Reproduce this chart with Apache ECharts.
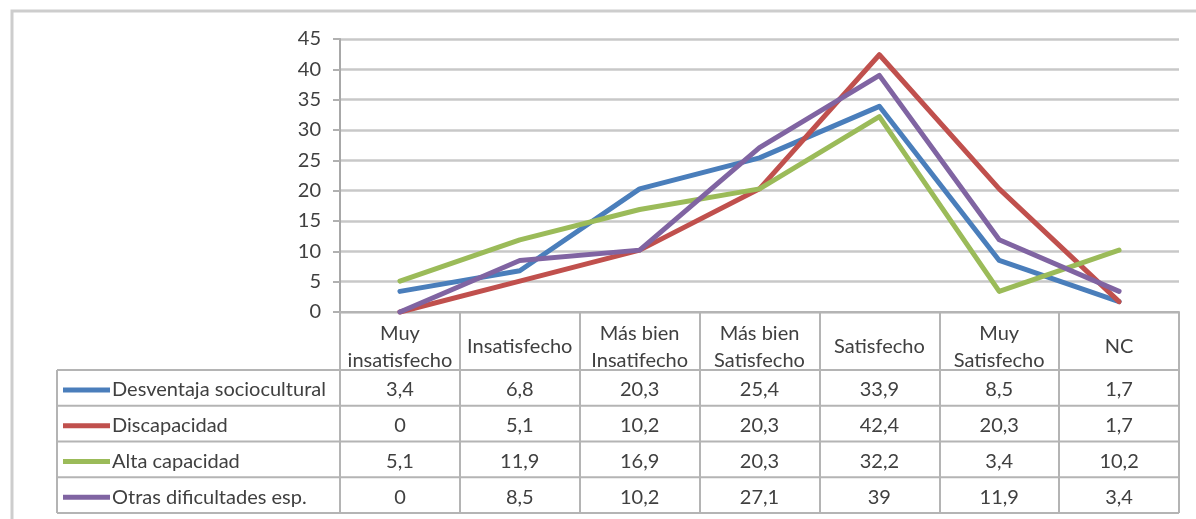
<!DOCTYPE html>
<html>
<head>
<meta charset="utf-8">
<script src="https://cdn.jsdelivr.net/npm/echarts@6/dist/echarts.min.js"></script>
<style>
  html, body { margin: 0; padding: 0; background: #ffffff; }
  #chart { width: 1196px; height: 519px; }
</style>
</head>
<body>
<div id="chart"></div>
<script>
// Satisfaction level categories (header row of the data table)
const categories = ['Muy\ninsatisfecho', 'Insatisfecho', 'Más bien\nInsatifecho', 'Más bien\nSatisfecho', 'Satisfecho', 'Muy\nSatisfecho', 'NC'];

// Percentages per group
const desventaja = [3.4, 6.8, 20.3, 25.4, 33.9, 8.5, 1.7];
const discapacidad = [0, 5.1, 10.2, 20.3, 42.4, 20.3, 1.7];
const altaCapacidad = [5.1, 11.9, 16.9, 20.3, 32.2, 3.4, 10.2];
const otras = [0, 8.5, 10.2, 27.1, 39, 11.9, 3.4];

const seriesNames = ['Desventaja sociocultural', 'Discapacidad', 'Alta capacidad', 'Otras dificultades esp.'];
const seriesValues = [desventaja, discapacidad, altaCapacidad, otras];
const seriesColors = ['#4a7ebb', '#c0504d', '#9bbb59', '#8064a2'];

// Value axis ticks
const yMin = 0, yMax = 45, yStep = 5;

const FONT = 'Lato, "Open Sans", sans-serif';
const FONT_SIZE = 20;
const TEXT = '#404040';
const TABLE_LINE = '#b4b4b4';

// Layout of the table under the plot
const gridLeft = 340, gridRight = 17, gridTop = 39, gridBottom = 207;
const headerH = 58;      // header row (category names)
const rowH = 35.75;      // one row per series
const tableLeft = 57;

const chart = echarts.init(document.getElementById('chart'), null, { renderer: 'canvas' });

const plotBottom = 519 - gridBottom;
const tableBottom = plotBottom + headerH + rowH * seriesNames.length;

chart.setOption({
  animation: false,
  backgroundColor: '#ffffff',
  textStyle: { fontFamily: FONT },
  grid: { left: gridLeft, right: gridRight, top: gridTop, bottom: gridBottom, containLabel: false },
  xAxis: {
    type: 'category',
    data: categories,
    boundaryGap: true,
    axisLine: { show: true, lineStyle: { color: TABLE_LINE, width: 2 } },
    axisTick: { show: true, length: tableBottom - plotBottom, lineStyle: { color: TABLE_LINE, width: 2 } },
    axisLabel: {
      interval: 0, margin: 35, verticalAlign: 'middle', align: 'center',
      fontFamily: FONT, fontSize: FONT_SIZE, lineHeight: 27, color: TEXT
    },
    splitLine: { show: false }
  },
  yAxis: {
    type: 'value',
    min: yMin, max: yMax, interval: yStep,
    axisLine: { show: true, lineStyle: { color: '#a8a8a8', width: 2 } },
    axisTick: { show: true, length: 7, lineStyle: { color: '#b0b0b0', width: 2 } },
    axisLabel: { margin: 19, fontFamily: FONT, fontSize: FONT_SIZE, color: TEXT },
    splitLine: { show: true, lineStyle: { color: '#c8c8c8', width: 2.5 } }
  },
  series: seriesNames.map((name, i) => ({
    name: name,
    type: 'line',
    data: seriesValues[i],
    showSymbol: false,
    symbol: 'none',
    clip: false,
    lineStyle: { color: seriesColors[i], width: 5, join: 'round', cap: 'round' },
    itemStyle: { color: seriesColors[i] },
    z: 3 + i
  }))
});

// Data table: row borders, legend keys, names and values
const fmt = v => String(v).replace('.', ',');
const gridRightX = 1196 - gridRight;
const graphics = [];

// outer frame of the chart area
graphics.push({
  type: 'rect', silent: true,
  shape: { x: 12, y: 11, width: 1300, height: 700 },
  style: { fill: null, stroke: '#cdcdcd', lineWidth: 3 }
});

const headerBottom = plotBottom + headerH;
for (let r = 0; r <= seriesNames.length; r++) {
  const y = headerBottom + r * rowH;
  graphics.push({
    type: 'line', silent: true,
    shape: { x1: tableLeft, y1: y, x2: gridRightX, y2: y },
    style: { stroke: TABLE_LINE, lineWidth: 2 }
  });
}
graphics.push({
  type: 'line', silent: true,
  shape: { x1: tableLeft, y1: headerBottom, x2: tableLeft, y2: tableBottom },
  style: { stroke: TABLE_LINE, lineWidth: 2 }
});
graphics.push({
  type: 'line', silent: true,
  shape: { x1: gridLeft, y1: plotBottom, x2: gridLeft, y2: tableBottom },
  style: { stroke: TABLE_LINE, lineWidth: 2 }
});

seriesNames.forEach((name, r) => {
  const cy = headerBottom + r * rowH + rowH / 2 + 2;
  graphics.push({
    type: 'rect', silent: true,
    shape: { x: 63, y: cy - 2.5, width: 47, height: 5 },
    style: { fill: seriesColors[r] }
  });
  graphics.push({
    type: 'text', silent: true,
    x: 112, y: cy,
    style: { text: name, fontFamily: FONT, fontSize: FONT_SIZE, fill: TEXT, align: 'left', verticalAlign: 'middle' }
  });
  seriesValues[r].forEach((v, c) => {
    const cx = chart.convertToPixel({ xAxisIndex: 0 }, c);
    graphics.push({
      type: 'text', silent: true,
      x: cx, y: cy,
      style: { text: fmt(v), fontFamily: FONT, fontSize: FONT_SIZE, fill: TEXT, align: 'center', verticalAlign: 'middle' }
    });
  });
});

chart.setOption({ graphic: graphics });
</script>
</body>
</html>
